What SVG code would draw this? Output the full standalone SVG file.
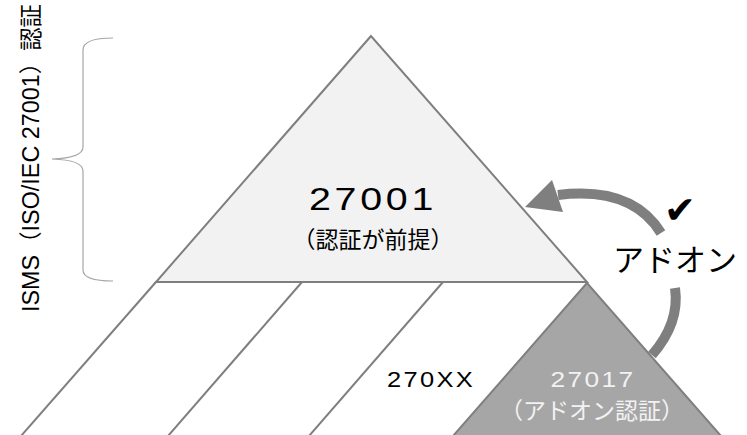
<svg xmlns="http://www.w3.org/2000/svg" width="747" height="435" viewBox="0 0 747 435">
<style>
.edge{fill:none;stroke:#7f7f7f;stroke-width:2}
.t{font-family:"Liberation Sans","Noto Sans CJK JP",sans-serif}
.j{font-family:"Noto Sans CJK JP","Liberation Sans",sans-serif}
</style>
<rect width="747" height="435" fill="#ffffff"/>
<g id="bracket">
<path d="M113 38 Q83 38 83 50 L83 147 Q83 158 52 159 Q83 160 83 171 L83 270 Q83 281 113 281" fill="none" stroke="#a6a6a6" stroke-width="1.2"/>
<text class="t" transform="translate(39,158) rotate(-90)" text-anchor="middle" font-size="23" textLength="308" lengthAdjust="spacingAndGlyphs" fill="#000">ISMS（ISO/IEC 27001）認証</text>
</g>
<g id="base">
<polygon points="371,36 156,282 587,282" fill="#f2f2f2" stroke="#7f7f7f" stroke-width="2" stroke-linejoin="miter"/>
<line class="edge" x1="156" y1="282" x2="21" y2="436"/>
<line class="edge" x1="302" y1="282" x2="168" y2="436"/>
<line class="edge" x1="443" y1="282" x2="309" y2="436"/>
</g>
<g id="n27001">
<text class="t" x="373" y="210" text-anchor="middle" font-size="32" letter-spacing="3" textLength="128" lengthAdjust="spacingAndGlyphs" fill="#000">27001</text>
<text class="j" x="373" y="248" text-anchor="middle" font-size="23" fill="#000">（認証が前提）</text>
</g>
<g id="n270XX">
<text class="t" x="431" y="387" text-anchor="middle" font-size="22" letter-spacing="2" textLength="88" lengthAdjust="spacingAndGlyphs" fill="#000">270XX</text>
</g>
<g id="n27017">
<polygon points="587,283 453,436 721,436" fill="#a6a6a6" stroke="#7f7f7f" stroke-width="2"/>
<text class="t" x="593" y="387" text-anchor="middle" font-size="22" letter-spacing="2" textLength="85" lengthAdjust="spacingAndGlyphs" fill="#f2f2f2">27017</text>
<text class="j" x="592" y="419" text-anchor="middle" font-size="23" fill="#f2f2f2">（アドオン認証）</text>
</g>
<g id="connectors">
<path d="M652 355 Q680 323 675 288" fill="none" stroke="#7f7f7f" stroke-width="10"/>
<path d="M661 233 Q632 186 558 195" fill="none" stroke="#7f7f7f" stroke-width="10"/>
<polygon points="525,207 552,180 563,212" fill="#7f7f7f"/>
</g>
<g id="addon">
<text x="680" y="223" text-anchor="middle" font-family="DejaVu Sans,sans-serif" font-size="38" fill="#000">✔</text>
<text class="j" x="675" y="271" text-anchor="middle" font-size="31" fill="#000">アドオン</text>
</g>
</svg>
